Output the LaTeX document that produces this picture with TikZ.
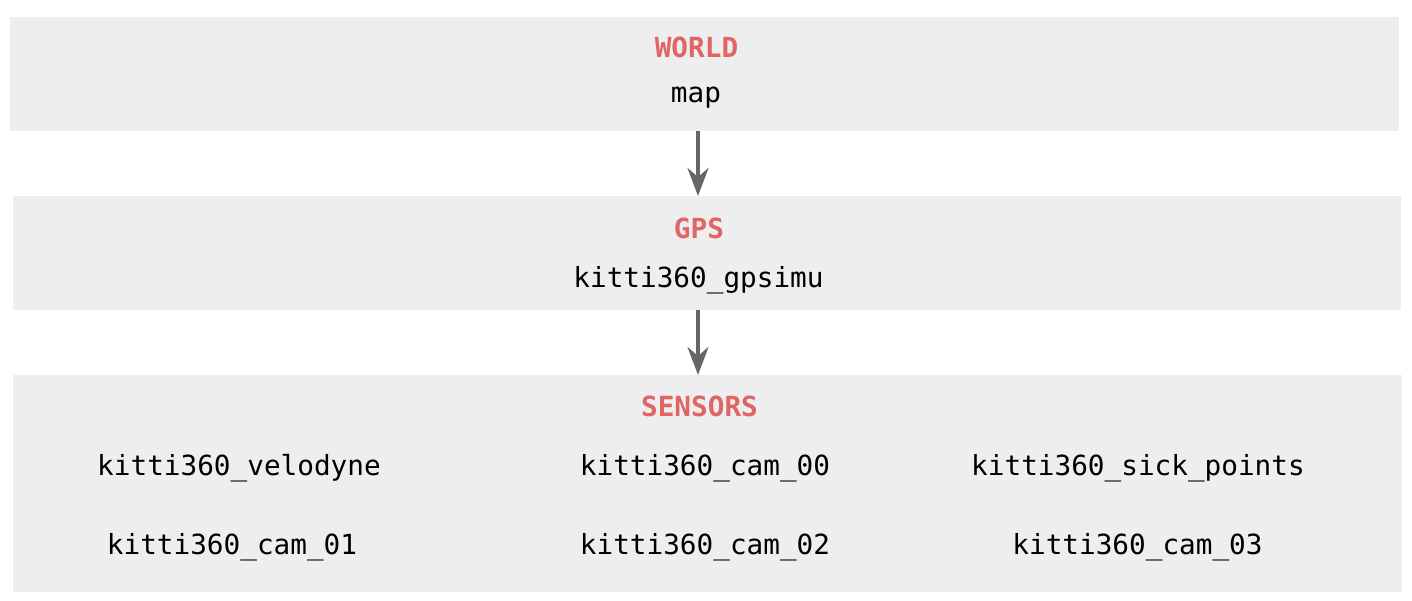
\documentclass[tikz,border=0pt]{standalone}
\usepackage{fontspec}
\setmonofont{DejaVu Sans Mono}
\usetikzlibrary{arrows.meta}
\definecolor{boxgray}{HTML}{EEEEEE}
\definecolor{headred}{HTML}{E06666}
\definecolor{arrowgray}{HTML}{666666}
\tikzset{
  panel/.style={fill=boxgray, draw=none, inner sep=0pt, anchor=north west},
  head/.style={font=\fontsize{27.7}{30}\selectfont\ttfamily\bfseries, text=headred, anchor=base, inner sep=0pt},
  frame/.style={font=\fontsize{27.7}{30}\selectfont\ttfamily, text=black, anchor=base, inner sep=0pt},
  link/.style={draw=arrowgray, line width=3.5pt, -{Stealth[length=28pt,width=21pt,inset=9pt]}}
}
\begin{document}
\begin{tikzpicture}[x=1pt,y=-1pt]
\useasboundingbox (0,0) rectangle (1412,601);
\fill[white] (0,0) rectangle (1412,601);
% panels
\node[panel, minimum width=1389pt, minimum height=114pt] (world) at (10,17) {};
\node[panel, minimum width=1388pt, minimum height=114pt] (gps) at (13,196) {};
\node[panel, minimum width=1389pt, minimum height=217pt] (sensors) at (13,375) {};
% texts
\node[head] (worldt) at (696.5,58) {WORLD};
\node[frame] (map) at (696,103) {map};
\node[head] (gpst) at (699,239) {GPS};
\node[frame] (gpsimu) at (698.5,288) {kitti360\_gpsimu};
\node[head] (senst) at (699.5,416) {SENSORS};
\node[frame] (velo) at (239,475) {kitti360\_velodyne};
\node[frame] (cam00) at (705,475) {kitti360\_cam\_00};
\node[frame] (sick) at (1138,475) {kitti360\_sick\_points};
\node[frame] (cam01) at (232,554) {kitti360\_cam\_01};
\node[frame] (cam02) at (705,554) {kitti360\_cam\_02};
\node[frame] (cam03) at (1137.5,554) {kitti360\_cam\_03};
% arrows
\draw[link] (world.south -| 698,0) -- (gps.north -| 698,0);
\draw[link] (gps.south -| 698,0) -- (sensors.north -| 698,0);
\end{tikzpicture}
\end{document}
